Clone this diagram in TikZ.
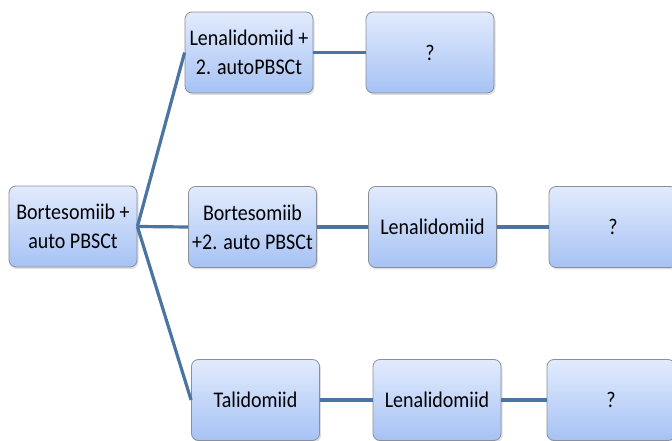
\documentclass[tikz,border=0pt]{standalone}
\usepackage{fontspec}
\setmainfont{Carlito}
\usetikzlibrary{shadows}
\definecolor{boxtop}{HTML}{E2EBFD}
\definecolor{boxbot}{HTML}{A6C2F4}
\definecolor{boxline}{HTML}{8A8F99}
\definecolor{conn}{HTML}{4A74A2}
\tikzset{
  stepbox/.style={rounded corners=7pt, draw=boxline, line width=0.8pt,
    top color=boxtop, bottom color=boxbot,
    minimum width=128pt, minimum height=81pt, align=center,
    inner sep=2pt,
    font=\fontsize{20}{29}\selectfont,
    drop shadow={shadow xshift=1.5pt, shadow yshift=-2pt, opacity=0.25}},
  conline/.style={draw=conn, line width=3.2pt}
}
\newcommand{\tall}[1]{\scalebox{1}[1.12]{#1}}
\begin{document}
\begin{tikzpicture}[x=1pt,y=1pt]
\useasboundingbox (0,0) rectangle (672,441);
\clip (0,0) rectangle (672,441);
\node[stepbox] (root) at (73,214.5) {\tall{Bortesomiib +}\\\tall{auto PBSCt}};
\node[stepbox] (t1) at (249,388.5) {\tall{Lenalidomiid +}\\\tall{2. autoPBSCt}};
\node[stepbox] (t2) at (430,388.5) {\tall{?}};
\node[stepbox] (m1) at (252.5,214) {\tall{Bortesomiib}\\\tall{+2. auto PBSCt}};
\node[stepbox] (m2) at (432.5,214) {\tall{Lenalidomiid}};
\node[stepbox] (m3) at (613,214) {\tall{?}};
\node[stepbox] (b1) at (255.5,41) {\tall{Talidomiid}};
\node[stepbox] (b2) at (437,41) {\tall{Lenalidomiid}};
\node[stepbox] (b3) at (611,41) {\tall{?}};
\draw[conline] (root.east) -- (t1.west);
\draw[conline] (root.east) -- (m1.west);
\draw[conline] (root.east) -- (b1.west);
\draw[conline] (t1) -- (t2);
\draw[conline] (m1) -- (m2);
\draw[conline] (m2) -- (m3);
\draw[conline] (b1) -- (b2);
\draw[conline] (b2) -- (b3);
\end{tikzpicture}
\end{document}
